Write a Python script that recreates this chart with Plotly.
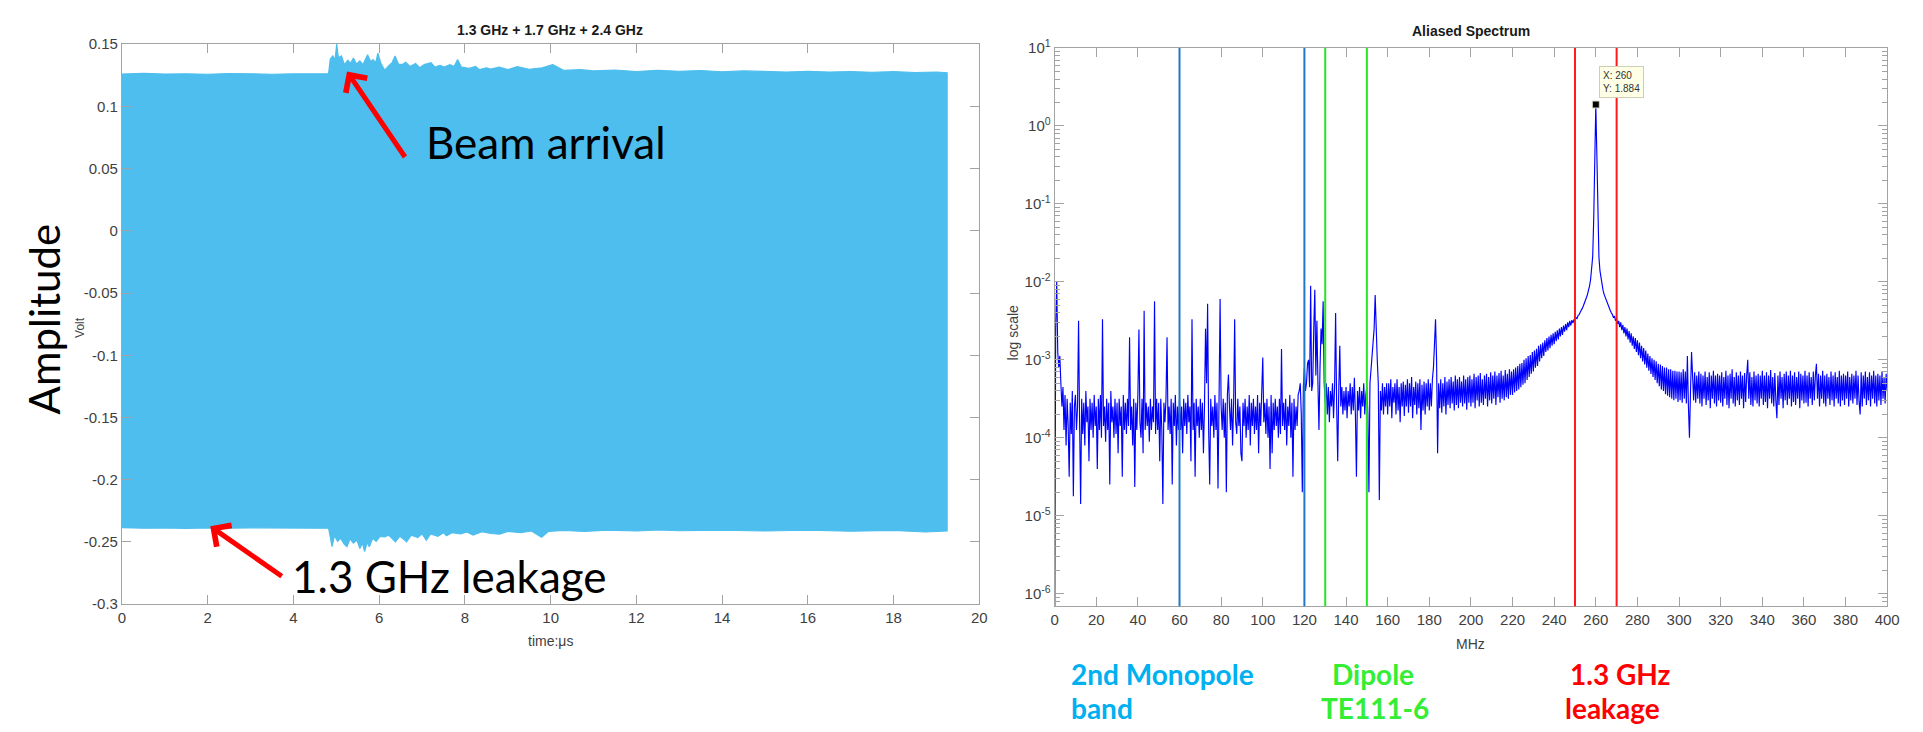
import numpy as np
import plotly.graph_objects as go

# ---------------- time-domain record (envelope of the sampled waveform, volts) ----------------
t_upper = [0, 0.5, 1.0, 1.5, 2.0, 2.5, 3.0, 3.5, 4.0, 4.5, 4.82,
           4.86, 4.92, 4.97, 5.01, 5.05, 5.12, 5.19, 5.27, 5.33, 5.40, 5.47, 5.55, 5.62, 5.73,
           5.80, 5.86, 5.92, 5.97, 6.04, 6.13, 6.22, 6.30, 6.37, 6.45, 6.54, 6.62, 6.72, 6.85,
           6.95, 7.05, 7.21, 7.30, 7.42, 7.52, 7.65, 7.75, 7.83, 7.92, 8.10, 8.25, 8.34, 8.50,
           8.60, 8.80, 9.00, 9.22, 9.50, 9.80, 10.05, 10.3, 10.7, 11.0, 11.5, 12.0, 12.5, 13.0,
           13.5, 14.0, 14.5, 15.0, 15.5, 16.0, 16.5, 17.0, 17.5, 18.0, 18.5, 19.0, 19.25]
v_upper = [0.126, 0.1265, 0.126, 0.1262, 0.1258, 0.1263, 0.1261, 0.1258, 0.1262, 0.126, 0.1262,
           0.138, 0.1405, 0.137, 0.150, 0.139, 0.1405, 0.1335, 0.137, 0.1345, 0.1388, 0.134, 0.1365, 0.1335, 0.1414,
           0.136, 0.1375, 0.135, 0.1427, 0.1345, 0.129, 0.1325, 0.135, 0.1405, 0.134, 0.1336, 0.1355, 0.132, 0.1345,
           0.131, 0.1335, 0.135, 0.1315, 0.133, 0.1315, 0.1335, 0.132, 0.1376, 0.1315, 0.1305, 0.132, 0.1295, 0.131,
           0.130, 0.1315, 0.1295, 0.132, 0.1298, 0.131, 0.1336, 0.129, 0.1295, 0.1285, 0.1292, 0.128, 0.129, 0.1282,
           0.1288, 0.1278, 0.1285, 0.128, 0.1276, 0.1282, 0.1275, 0.128, 0.1274, 0.1279, 0.1272, 0.1276, 0.127]

t_lower = [0, 0.5, 1.0, 1.5, 2.0, 2.5, 3.0, 3.5, 4.0, 4.5, 4.82,
           4.86, 4.90, 4.96, 5.03, 5.10, 5.18, 5.25, 5.32, 5.40, 5.48, 5.55, 5.61, 5.66, 5.72,
           5.77, 5.85, 5.93, 6.02, 6.13, 6.22, 6.30, 6.38, 6.48, 6.56, 6.64, 6.75, 6.90, 7.00,
           7.10, 7.20, 7.37, 7.50, 7.57, 7.70, 7.90, 8.05, 8.19, 8.40, 8.60, 8.81, 9.00, 9.30,
           9.55, 9.79, 9.95, 10.3, 10.8, 11.3, 12.0, 12.5, 13.0, 14.0, 15.0, 16.0, 17.0, 18.0,
           18.75, 19.25]
v_lower = [-0.2385, -0.239, -0.2387, -0.2392, -0.2388, -0.239, -0.2386, -0.2391, -0.2388, -0.239, -0.2389,
           -0.246, -0.2538, -0.245, -0.2495, -0.247, -0.2515, -0.2538, -0.2475, -0.251, -0.2485, -0.2553, -0.251, -0.2577, -0.2505,
           -0.2538, -0.247, -0.2495, -0.2455, -0.246, -0.2445, -0.2475, -0.2499, -0.2455, -0.2475, -0.2499, -0.2445, -0.2465, -0.2435,
           -0.2485, -0.2435, -0.2455, -0.2425, -0.245, -0.2425, -0.2435, -0.242, -0.2445, -0.2418, -0.2432, -0.2438, -0.2415, -0.2425,
           -0.2412, -0.2462, -0.2415, -0.2408, -0.2415, -0.2405, -0.2412, -0.2404, -0.241, -0.2405, -0.2412, -0.2406, -0.2413, -0.2407,
           -0.242, -0.2412]

time_ticks = [0, 2, 4, 6, 8, 10, 12, 14, 16, 18, 20]
volt_ticks = [-0.3, -0.25, -0.2, -0.15, -0.1, -0.05, 0, 0.05, 0.1, 0.15]
volt_labels = ["-0.3", "-0.25", "-0.2", "-0.15", "-0.1", "-0.05", "0", "0.05", "0.1", "0.15"]

# ---------------- aliased spectrum: log10 magnitude in 0.5 MHz bins, 0..400 MHz ----------------
spec_log10 = [
    # 0 - 9.5 MHz
    -7.0, -2.6, -2.0, -2.9, -3.1, -2.95, -3.3, -3.6, -3.35, -3.9, -3.45, -4.1, -3.5, -3.85, -4.5, -3.55, -3.95, -3.4, -4.75, -3.6,
    # 10 - 19.5
    -3.45, -3.9, -3.6, -2.5, -3.8, -4.85, -3.5, -3.95, -3.55, -4.1, -3.4, -3.8, -3.6, -4.3, -3.5, -3.9, -3.55, -4.0, -3.45, -3.85,
    # 20 - 29.5
    -3.6, -4.4, -3.5, -3.9, -3.45, -4.0, -2.48, -3.85, -3.6, -4.05, -3.5, -3.9, -3.55, -4.6, -3.4, -3.8, -3.6, -4.0, -3.5, -3.95,
    # 30 - 39.5
    -3.55, -4.2, -3.5, -3.85, -3.6, -4.5, -3.45, -3.9, -3.55, -3.95, -3.5, -3.85, -2.71, -3.9, -3.6, -4.1, -3.5, -4.63, -3.55, -3.9,
    # 40 - 49.5
    -3.45, -2.61, -3.8, -4.0, -3.5, -4.2, -2.37, -3.9, -3.55, -3.85, -3.6, -4.05, -3.5, -3.9, -3.6, -3.8, -2.25, -3.95, -3.5, -3.9,
    # 50 - 59.5
    -3.55, -4.3, -3.5, -3.9, -4.85, -3.55, -3.8, -3.5, -2.71, -3.9, -3.6, -3.95, -3.5, -4.6, -3.55, -3.85, -3.45, -4.1, -3.6, -3.9,
    # 60 - 69.5
    -3.5, -3.9, -3.6, -4.2, -3.5, -3.85, -3.55, -3.95, -3.45, -3.8, -3.6, -4.3, -2.48, -3.9, -3.55, -4.5, -3.5, -3.85, -3.6, -4.0,
    # 70 - 79.5
    -3.5, -3.9, -3.55, -4.2, -3.6, -2.6, -3.3, -2.28, -3.9, -4.6, -3.5, -3.85, -3.6, -4.0, -3.45, -3.9, -3.55, -4.65, -3.5, -2.22,
    # 80 - 89.5
    -3.6, -3.9, -3.5, -4.0, -3.55, -4.7, -3.45, -3.19, -3.6, -3.9, -3.5, -4.1, -3.55, -2.48, -3.8, -3.95, -3.5, -3.85, -3.6, -4.2,
    # 90 - 99.5
    -4.3, -3.55, -3.85, -3.5, -4.0, -3.6, -3.9, -3.45, -4.1, -3.55, -3.85, -3.5, -3.95, -3.6, -3.9, -3.45, -4.2, -3.55, -3.85, -3.5,
    # 100 - 109.5
    -2.97, -3.8, -3.55, -3.95, -3.5, -4.0, -3.6, -4.4, -3.45, -4.2, -3.55, -3.9, -3.5, -3.85, -3.6, -4.0, -3.5, -3.95, -2.86, -3.85,
    # 110 - 119.5
    -3.55, -3.9, -3.5, -4.1, -3.6, -3.85, -3.45, -4.0, -3.55, -4.5, -3.5, -3.9, -3.6, -3.85, -3.45, -3.4, -3.3, -3.7, -4.7, -3.35,
    # 120 - 129.5
    -3.1, -3.4, -3.3, -3.05, -3.0, -3.35, -2.05, -3.4, -3.3, -2.6, -2.1, -3.2, -2.5, -3.3, -3.9, -3.1, -2.6, -2.8, -2.25, -3.3,
    # 130 - 139.5
    -3.55, -3.3, -3.7, -3.35, -3.8, -3.4, -3.6, -3.3, -3.75, -3.35, -2.4, -3.6, -4.3, -3.4, -2.82, -3.6, -3.35, -3.7, -3.4, -3.65,
    # 140 - 149.5
    -3.35, -3.75, -3.4, -3.6, -3.3, -3.7, -3.35, -3.65, -3.23, -3.7, -4.5, -3.4, -3.65, -3.35, -3.75, -3.4, -3.6, -3.3, -3.7, -3.45,
    # 150 - 159.5
    -3.35, -3.7, -4.7, -3.3, -3.1, -3.0, -2.75, -2.6, -2.17, -2.7, -3.0, -3.3, -4.8, -3.4, -3.65, -3.3, -3.7, -3.35, -3.6, -3.3,
    # 160 - 169.5
    -3.7, -3.3, -3.6, -3.25, -3.75, -3.35, -3.55, -3.3, -3.7, -3.25, -3.65, -3.35, -3.8, -3.3, -3.6, -3.28, -3.72, -3.32, -3.6, -3.25,
    # 170 - 179.5
    -3.68, -3.3, -3.6, -3.22, -3.75, -3.35, -3.58, -3.28, -3.7, -3.3, -3.62, -3.25, -3.9, -3.32, -3.65, -3.28, -3.7, -3.3, -3.6, -3.25,
    # 180 - 189.5
    -3.65, -3.3, -3.6, -3.25, -3.1, -2.8, -2.48, -3.0, -4.2, -3.3, -3.62, -3.25, -3.68, -3.3, -3.6, -3.22, -3.7, -3.28, -3.58, -3.25,
    # 190 - 199.5
    -3.62, -3.22, -3.56, -3.28, -3.65, -3.2, -3.58, -3.25, -3.62, -3.22, -3.55, -3.28, -3.6, -3.2, -3.56, -3.25, -3.64, -3.22, -3.55, -3.2,
    # 200 - 209.5
    -3.6, -3.25, -3.55, -3.18, -3.62, -3.22, -3.52, -3.2, -3.6, -3.17, -3.55, -3.25, -3.58, -3.2, -3.5, -3.18, -3.6, -3.22, -3.52, -3.16,
    # 210 - 219.5
    -3.56, -3.2, -3.5, -3.15, -3.58, -3.2, -3.48, -3.17, -3.55, -3.14, -3.5, -3.2, -3.52, -3.13, -3.48, -3.18, -3.5, -3.12, -3.45, -3.15,
    # 220 - 229.5
    -3.45, -3.12, -3.42, -3.1, -3.4, -3.08, -3.38, -3.05, -3.35, -3.04, -3.32, -3.0, -3.3, -2.98, -3.26, -2.95, -3.22, -2.94, -3.18, -2.9,
    # 230 - 239.5
    -3.15, -2.88, -3.1, -2.86, -3.08, -2.82, -3.02, -2.8, -2.98, -2.78, -2.95, -2.75, -2.9, -2.72, -2.88, -2.7, -2.85, -2.68, -2.82, -2.66,
    # 240 - 249.5
    -2.8, -2.64, -2.76, -2.62, -2.74, -2.6, -2.7, -2.58, -2.68, -2.56, -2.64, -2.54, -2.62, -2.52, -2.58, -2.5, -2.56, -2.49, -2.53, -2.48,
    # 250 - 259.5
    -2.5, -2.46, -2.47, -2.43, -2.42, -2.39, -2.37, -2.34, -2.31, -2.28, -2.24, -2.2, -2.16, -2.11, -2.05, -1.97, -1.86, -1.68, -1.19, -0.36,
    # 260 - 269.5
    0.275, -0.36, -1.19, -1.68, -1.86, -1.97, -2.05, -2.11, -2.16, -2.2, -2.24, -2.28, -2.31, -2.34, -2.37, -2.4, -2.42, -2.46, -2.44, -2.5,
    # 270 - 279.5
    -2.47, -2.54, -2.5, -2.58, -2.52, -2.62, -2.55, -2.66, -2.58, -2.7, -2.6, -2.74, -2.63, -2.78, -2.66, -2.82, -2.7, -2.86, -2.72, -2.9,
    # 280 - 289.5
    -2.75, -2.94, -2.78, -2.98, -2.82, -3.02, -2.85, -3.06, -2.88, -3.1, -2.92, -3.14, -2.95, -3.18, -2.98, -3.22, -3.0, -3.26, -3.02, -3.3,
    # 290 - 299.5
    -3.05, -3.34, -3.06, -3.38, -3.08, -3.4, -3.1, -3.44, -3.1, -3.46, -3.12, -3.48, -3.12, -3.5, -3.14, -3.52, -3.14, -3.5, -3.15, -3.54,
    # 300 - 309.5
    -3.15, -3.52, -3.16, -3.55, -3.12, -3.5, -3.15, -3.56, -2.95, -3.6, -4.0, -3.4, -2.9, -3.2, -3.52, -3.16, -3.55, -3.2, -3.5, -3.15,
    # 310 - 319.5
    -3.56, -3.18, -3.6, -3.2, -3.5, -3.15, -3.58, -3.22, -3.52, -3.16, -3.62, -3.2, -3.5, -3.14, -3.56, -3.2, -3.6, -3.18, -3.52, -3.2,
    # 320 - 329.5
    -3.55, -3.16, -3.6, -3.22, -3.5, -3.14, -3.58, -3.2, -3.62, -3.18, -3.5, -3.12, -3.56, -3.22, -3.6, -3.16, -3.52, -3.2, -3.58, -3.15,
    # 330 - 339.5
    -3.5, -3.2, -3.62, -3.17, -3.54, -3.2, -3.0, -3.5, -3.16, -3.58, -3.22, -3.6, -3.15, -3.52, -3.2, -3.56, -3.18, -3.6, -3.2, -3.5,
    # 340 - 349.5
    -3.14, -3.58, -3.2, -3.54, -3.16, -3.62, -3.2, -3.5, -3.13, -3.56, -3.22, -3.6, -3.17, -3.52, -3.75, -3.2, -3.58, -3.15, -3.5, -3.22,
    # 350 - 359.5
    -3.62, -3.18, -3.52, -3.15, -3.58, -3.2, -3.5, -3.14, -3.6, -3.2, -3.54, -3.16, -3.58, -3.22, -3.5, -3.15, -3.62, -3.18, -3.52, -3.2,
    # 360 - 369.5
    -3.56, -3.14, -3.55, -3.2, -3.6, -3.16, -3.5, -3.22, -3.58, -3.15, -3.52, -3.2, -3.05, -3.5, -3.18, -3.6, -3.2, -3.5, -3.14, -3.56,
    # 370 - 379.5
    -3.2, -3.6, -3.18, -3.5, -3.22, -3.58, -3.15, -3.52, -3.2, -3.6, -3.16, -3.5, -3.22, -3.56, -3.14, -3.6, -3.2, -3.52, -3.18, -3.58,
    # 380 - 389.5
    -3.2, -3.5, -3.15, -3.6, -3.22, -3.52, -3.18, -3.56, -3.2, -3.5, -3.14, -3.58, -3.2, -3.54, -3.7, -3.16, -3.6, -3.2, -3.5, -3.15,
    # 390 - 399.5
    -3.58, -3.22, -3.52, -3.16, -3.6, -3.2, -3.5, -3.14, -3.56, -3.2, -3.6, -3.18, -3.52, -3.2, -3.58, -3.15, -3.5, -3.22, -3.56, -3.18,
    # 400
    -3.4,
]
BIN_MHZ = 0.5
freq_mhz = np.arange(len(spec_log10)) * BIN_MHZ

peak_mhz = 260
peak_val = 1.884

freq_ticks = list(range(0, 401, 20))
decade_ticks = [1e-6, 1e-5, 1e-4, 1e-3, 1e-2, 1e-1, 1e0, 1e1]
decade_labels = ["10<sup>-6</sup>", "10<sup>-5</sup>", "10<sup>-4</sup>", "10<sup>-3</sup>",
                 "10<sup>-2</sup>", "10<sup>-1</sup>", "10<sup>0</sup>", "10<sup>1</sup>"]

monopole_mhz = [60, 120]
dipole_mhz = [130, 150]
leakage_mhz = [250, 270]

# ---------------- layout helpers (pixel -> paper) ----------------
W, H = 1923, 732


def px(x):
    return x / W


def py(y):
    return 1 - y / H


AXIS_GREY = "#a3a3a3"
TICK_FONT = dict(family="Liberation Sans, Arial, sans-serif", size=15, color="#3f3f3f")
CALLOUT_FONT = "Lato, Open Sans, sans-serif"

fig = go.Figure()

# filled waveform band
band_t = t_upper + t_lower[::-1]
band_v = v_upper + v_lower[::-1]
fig.add_trace(go.Scatter(x=band_t, y=band_v, mode="lines", fill="toself",
                         fillcolor="#4DBEEE", line=dict(color="#4DBEEE", width=1.2),
                         xaxis="x", yaxis="y", hoverinfo="skip", showlegend=False))

# spectrum trace
fig.add_trace(go.Scatter(x=freq_mhz, y=np.power(10.0, spec_log10), mode="lines",
                         line=dict(color="rgb(0,0,255)", width=1.15),
                         xaxis="x2", yaxis="y2", hoverinfo="skip", showlegend=False))

# data-tip marker at the leakage peak
fig.add_trace(go.Scatter(x=[peak_mhz], y=[peak_val], mode="markers",
                         marker=dict(symbol="square", size=7, color="black",
                                     line=dict(color="#d8d8c0", width=1)),
                         xaxis="x2", yaxis="y2", hoverinfo="skip", showlegend=False))

common = dict(showline=True, linecolor=AXIS_GREY, linewidth=1, mirror="ticks",
              ticks="inside", ticklen=9, tickcolor=AXIS_GREY, tickwidth=1,
              showgrid=False, zeroline=False, tickfont=TICK_FONT)

fig.update_layout(
    width=W, height=H, margin=dict(l=0, r=0, t=0, b=0),
    paper_bgcolor="white", plot_bgcolor="white", showlegend=False,
    xaxis=dict(domain=[px(119), px(984)], range=[0, 20], anchor="y",
               tickmode="array", tickvals=time_ticks,
               ticktext=[str(v) for v in time_ticks], **common),
    yaxis=dict(domain=[py(609), py(34)], range=[-0.3, 0.15], anchor="x",
               tickmode="array", tickvals=volt_ticks, ticktext=volt_labels, **common),
    xaxis2=dict(domain=[px(1060), px(1900)], range=[0, 400], anchor="y2",
                tickmode="array", tickvals=freq_ticks,
                ticktext=[str(v) for v in freq_ticks], **common),
    yaxis2=dict(domain=[py(611), py(38)], type="log", range=[-6.16, 1], anchor="x2",
                tickmode="array", tickvals=decade_ticks, ticktext=decade_labels,
                minor=dict(ticks="inside", ticklen=5, tickcolor=AXIS_GREY, dtick="D1"),
                **common),
)

# band markers on the spectrum
for freqs, colour in ((monopole_mhz, "#1f78c8"), (dipole_mhz, "#27e427"), (leakage_mhz, "#ff1a1a")):
    for f in freqs:
        fig.add_shape(type="line", xref="x2", yref="y2 domain", x0=f, x1=f, y0=0, y1=1,
                      line=dict(color=colour, width=2))

ann = []


def text(x, y, s, size, colour="#1a1a1a", family="Liberation Sans, Arial, sans-serif",
         angle=0, xanchor="center", yanchor="middle"):
    ann.append(dict(x=px(x), y=py(y), xref="paper", yref="paper", text=s, showarrow=False,
                    font=dict(family=family, size=size, color=colour), textangle=angle,
                    xanchor=xanchor, yanchor=yanchor))


# titles and axis labels
text(551, 19, "<b>1.3 GHz + 1.7 GHz + 2.4 GHz</b>", 14)
text(1480, 21, "<b>Aliased Spectrum</b>", 14)
text(551, 647, "time:\u03bcs", 14, colour="#3f3f3f")
text(1480, 650, "MHz", 14, colour="#3f3f3f")
text(1018, 331, "log scale", 14, colour="#3f3f3f", angle=-90)
text(76, 325, "Volt", 12, colour="#3f3f3f", angle=-90)
text(40, 316, "Amplitude", 42, colour="black", family=CALLOUT_FONT, angle=-90)

# callouts on the waveform
text(424, 134, "Beam arrival", 44, colour="black", family=CALLOUT_FONT, xanchor="left")
text(289, 580, "1.3 GHz leakage", 44, colour="black", family=CALLOUT_FONT, xanchor="left")

# band captions under the spectrum
text(1074, 681, "<b>2nd Monopole</b>", 28, colour="#00B0F0", family=CALLOUT_FONT, xanchor="left")
text(1074, 716, "<b>band</b>", 28, colour="#00B0F0", family=CALLOUT_FONT, xanchor="left")
text(1381, 681, "<b>Dipole</b>", 28, colour="#33EE33", family=CALLOUT_FONT)
text(1383, 716, "<b>TE111-6</b>", 28, colour="#33EE33", family=CALLOUT_FONT)
text(1631, 681, "<b>1.3 GHz</b>", 28, colour="#FF0000", family=CALLOUT_FONT)
text(1623, 716, "<b>leakage</b>", 28, colour="#FF0000", family=CALLOUT_FONT)

# red pointer arrows
ann.append(dict(x=5.25, y=0.128, xref="x", yref="y", text="", showarrow=True,
                ax=59, ay=87, axref="pixel", ayref="pixel",
                arrowhead=4, arrowsize=1, arrowwidth=5, arrowcolor="#ff0000"))
ann.append(dict(x=2.06, y=-0.2374, xref="x", yref="y", text="", showarrow=True,
                ax=73, ay=51, axref="pixel", ayref="pixel",
                arrowhead=4, arrowsize=1, arrowwidth=5, arrowcolor="#ff0000"))

# data tip box
ann.append(dict(x=peak_mhz, y=float(np.log10(peak_val)), xref="x2", yref="y2",
                text="X: 260<br>Y: 1.884", showarrow=False, align="left",
                xanchor="left", yanchor="bottom", xshift=3, yshift=7,
                font=dict(family="Liberation Sans, Arial, sans-serif", size=10, color="#333333"),
                bgcolor="#ffffe6", bordercolor="#cfcfb8", borderwidth=1, borderpad=3))

fig.update_layout(annotations=ann)

fig.write_html("out.html")
